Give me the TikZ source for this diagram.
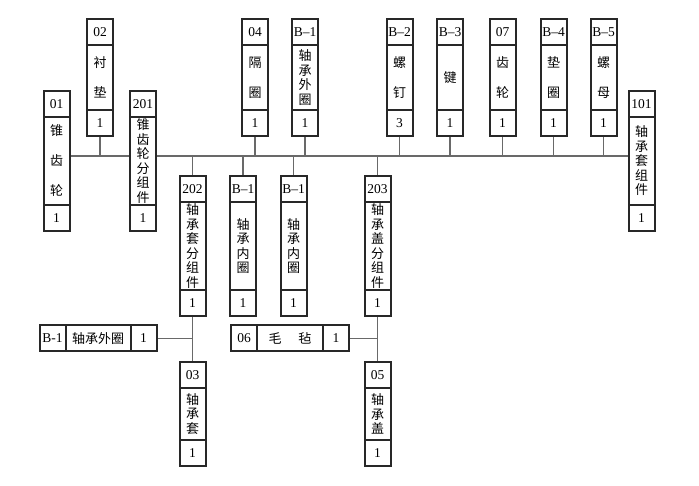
\documentclass[tikz,border=0pt]{standalone}
\usepackage{fontspec}
\setmainfont{Liberation Serif}
\newfontfamily\cjk{Noto Sans CJK SC}
\usetikzlibrary{positioning, backgrounds}
\definecolor{colBorder}{RGB}{40,40,40}
\definecolor{colLine}{RGB}{105,105,105}
\tikzset{
    codecell/.style={rectangle, draw=colBorder, line width=2pt, fill=white, outer sep=0pt, inner sep=0pt,
        minimum width=26pt, minimum height=26pt, align=center, font=\fontsize{13.5}{15}\selectfont},
    namecell/.style={codecell, text width=26pt, font=\cjk\fontsize{13}{14.5}\selectfont},
    loose/.style={font=\cjk\fontsize{13}{30}\selectfont},
    link/.style={draw=colLine, line width=1.1pt}
}
% one part card: code on top, name in the middle, quantity at the bottom
\newcommand{\card}[8][]{%
    \node[codecell, anchor=north] (h#2) at (#3,#4) {#6};
    \node[namecell, #1, minimum height=#5pt, below=0pt of h#2] (m#2) {#7};
    \node[codecell, below=0pt of m#2] (f#2) {#8};
}

\begin{document}
\begin{tikzpicture}[x=1pt, y=-1pt]
    \useasboundingbox (0,0) rectangle (699,486);

    % bus level
    \card[loose]{01}{56.5}{91}{88}{01}{锥\\齿\\轮}{1}
    \card{201}{143}{91}{88}{201}{锥\\齿\\轮\\分\\组\\件}{1}
    \card{101}{641.5}{91}{88}{101}{轴\\承\\套\\组\\件}{1}

    % upper row
    \card[loose]{02}{100}{19}{65}{02}{衬\\垫}{1}
    \card[loose]{04}{255}{19}{65}{04}{隔\\圈}{1}
    \card{B1o}{305}{19}{65}{B--1}{轴\\承\\外\\圈}{1}
    \card[loose]{B2}{399.5}{19}{65}{B--2}{螺\\钉}{3}
    \card{B3}{450}{19}{65}{B--3}{键}{1}
    \card[loose]{07}{502.5}{19}{65}{07}{齿\\轮}{1}
    \card[loose]{B4}{553.5}{19}{65}{B--4}{垫\\圈}{1}
    \card[loose]{B5}{603.5}{19}{65}{B--5}{螺\\母}{1}

    % lower row
    \card{202}{192.5}{176}{88}{202}{轴\\承\\套\\分\\组\\件}{1}
    \card{B1i}{243}{176}{88}{B--1}{轴\\承\\内\\圈}{1}
    \card{B1j}{293.5}{176}{88}{B--1}{轴\\承\\内\\圈}{1}
    \card{203}{377.5}{176}{88}{203}{轴\\承\\盖\\分\\组\\件}{1}

    \card{03}{192.5}{362}{52}{03}{轴\\承\\套}{1}
    \card{05}{377.5}{362}{52}{05}{轴\\承\\盖}{1}

    % side rows
    \node[codecell] (hB1r) at (52.5,338.5) {B-1};
    \node[namecell, text width=65pt, minimum width=65pt, right=0pt of hB1r] (mB1r) {轴承外圈};
    \node[codecell, right=0pt of mB1r] (fB1r) {1};

    \node[codecell] (h06) at (244,338.5) {06};
    \node[namecell, text width=66pt, minimum width=66pt, right=0pt of h06] (m06) {毛\hspace{17pt}毡};
    \node[codecell, right=0pt of m06] (f06) {1};

    \begin{scope}[on background layer]
        \coordinate (bus) at (0,156);
        \draw[link] (m01.east |- bus) -- (m201.west |- bus);
        \draw[link] (m201.east |- bus) -- (m101.west |- bus);
        \foreach \n in {02,04,B1o,B2,B3,07,B4,B5}
            \draw[link] (f\n.south) -- (f\n.south |- bus);
        \foreach \n in {202,B1i,B1j,203}
            \draw[link] (h\n.north) -- (h\n.north |- bus);
        \draw[link] (f202.south) -- (h03.north);
        \draw[link] (f203.south) -- (h05.north);
        \draw[link] (fB1r.east) -- (fB1r.east -| h03.north);
        \draw[link] (f06.east) -- (f06.east -| h05.north);
    \end{scope}
\end{tikzpicture}
\end{document}
